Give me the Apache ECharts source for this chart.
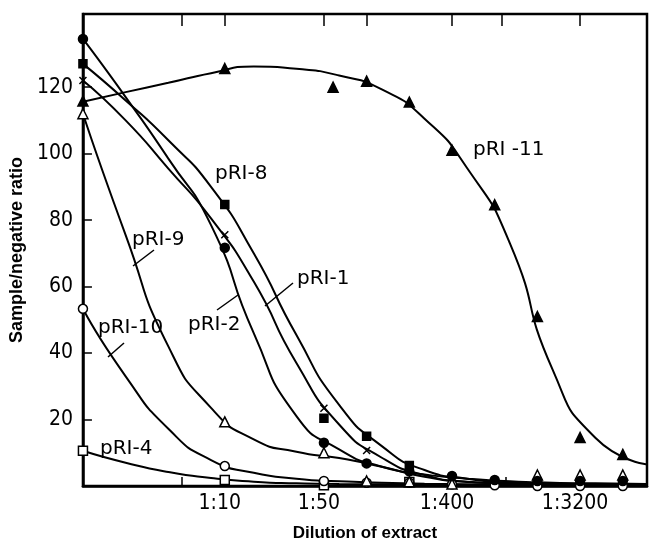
<!DOCTYPE html>
<html>
<head>
<meta charset="utf-8">
<script src="https://cdn.jsdelivr.net/npm/echarts@6/dist/echarts.min.js"></script>
<style>
  html, body { margin: 0; padding: 0; background: #fff; }
  #main { width: 658px; height: 547px; }
</style>
</head>
<body>
<div id="main"></div>
<script>
// dilution of extract, 1:x
var dilutions = [1, 10, 50, 100, 200, 400, 800, 1600, 3200, 6400];
var xLabels = [10, 50, 400, 3200];
var yLabels = [20, 40, 60, 80, 100, 120];
var topTicks = [5, 10, 50, 100, 400, 900, 3200];
var bottomTicks = [5, 950];

// measured points (null = hidden under other marks)
var pri1Marks  = [122, 75.6, 23.4, 10.7, null, null, null, null, null, null];
var pri8Marks  = [127, 84.7, 20.4, 15, 6.2, null, null, null, null, null];
var pri2Marks  = [134.5, 71.7, 13, 6.8, 4.4, 3, 1.8, 1.5, 1.5, 1.5];
var pri9Marks  = [112, 19.3, 10, 1.5, 1.3, 0.6, null, 3.3, 3.3, 3.3];
var pri10Marks = [53.3, 6, 1.5, 1, 1, 0.5, 0.2, 0, 0, 0];
var pri4Marks  = [10.6, 1.8, 0.2, null, 1.2, null, null, null, null, null];
var pri11X     = [1, 10, 58, 100, 200, 400, 800, 1600, 3200, 6400];
var pri11Marks = [115.8, 125.6, 120, 121.8, 115.5, 101, 84.6, 51, 14.6, 9.5];

// fitted curves, read at two-fold steps
var curveX    = [1, 2, 4, 8, 16, 32, 64, 128, 256, 512, 1024, 2048, 4096, 9480];
var pri11Line = [115.6, 118.5, 121.3, 124.2, 126.2, 125.5, 123.5, 119.3, 110.5, 95.6, 73, 35, 14.5, 6.5];
var pri8Line  = [127, 116, 104, 90, 70, 45.4, 24.4, 12, 4.8, 2.2, 1.1, 0.8, 0.6, 0.5];
var pri1Line  = [122, 110, 95.5, 80.5, 61.5, 37, 18.5, 8.5, 3.3, 1.3, 0.7, 0.6, 0.5, 0.5];
var pri2Line  = [134.5, 117, 98.5, 78.5, 46, 21, 11, 5.8, 3.5, 2.2, 1.4, 1, 0.8, 0.6];
var pri9Line  = [112, 75.5, 42, 23.5, 14, 10.3, 8.4, 5.8, 2.8, 1.2, 0.8, 0.6, 0.5, 0.5];
var pri10Line = [53.3, 33, 17.2, 7.8, 4, 2.2, 1.4, 1, 0.7, 0.5, 0.4, 0.4, 0.4, 0.4];
var pri4Line  = [10.6, 7, 4.2, 2.4, 1.3, 0.8, 0.6, 0.5, 0.4, 0.3, 0.3, 0.3, 0.3, 0.3];

var tickFont = "'Liberation Sans Narrow', 'DejaVu Sans Condensed', 'Liberation Sans', sans-serif";
var labelFont = "'DejaVu Sans', sans-serif";
var crossPath = 'path://M0,0L10,10M10,0L0,10';

function pairs(xs, ys) {
    var out = [];
    for (var i = 0; i < xs.length; i++) {
        if (ys[i] !== null) out.push([xs[i], ys[i]]);
    }
    return out;
}

function curve(ys) {
    return {
        type: 'line', data: pairs(curveX, ys), smooth: 0.6, symbol: 'none', silent: true,
        lineStyle: { color: '#000', width: 2 }, z: 2
    };
}

function marks(data, symbol, size, filled) {
    return {
        type: 'scatter', data: data, symbol: symbol, symbolSize: size, z: 5,
        itemStyle: {
            color: filled ? '#000' : '#fff',
            borderColor: '#000',
            borderWidth: 1.5,
            opacity: 1
        }
    };
}

function label(x, y, text) {
    return { type: 'text', style: { x: x, y: y, text: text, font: '20px ' + labelFont, fill: '#000', verticalAlign: 'middle' } };
}

function leader(x1, y1, x2, y2) {
    return { type: 'line', shape: { x1: x1, y1: y1, x2: x2, y2: y2 }, style: { stroke: '#000', lineWidth: 1.5 } };
}

var chart = echarts.init(document.getElementById('main'));

var option = {
    animation: false,
    grid: {
        left: 82, right: 11, top: 14, bottom: 55,
        show: true, borderColor: '#000', borderWidth: 2.5
    },
    xAxis: [{
        type: 'log', logBase: 2, min: 1, max: 9480,
        name: 'Dilution of extract', nameLocation: 'middle', nameGap: 39,
        nameTextStyle: { fontFamily: "'Liberation Sans', sans-serif", fontWeight: 'bold', fontSize: 17, color: '#000' },
        axisLine: { lineStyle: { color: '#000', width: 2.5 } },
        axisTick: { inside: true, length: 9, customValues: bottomTicks, lineStyle: { color: '#000', width: 1.5 } },
        axisLabel: {
            customValues: xLabels, margin: 7, padding: [0, 10, 0, 0],
            fontFamily: tickFont, fontSize: 21, color: '#000',
            formatter: function (v) { return '1:' + v; }
        },
        splitLine: { show: false }, minorTick: { show: false }
    }, {
        type: 'log', logBase: 2, min: 1, max: 9480, position: 'top',
        axisLine: { show: false },
        axisTick: { inside: true, length: 12, customValues: topTicks, lineStyle: { color: '#000', width: 1.5 } },
        axisLabel: { show: false },
        splitLine: { show: false }
    }],
    yAxis: {
        type: 'value', min: 0, max: 142,
        name: 'Sample/negative ratio', nameLocation: 'middle', nameGap: 41,
        nameTextStyle: { fontFamily: "'Liberation Sans', sans-serif", fontWeight: 'bold', fontSize: 18, color: '#000' },
        axisLine: { show: true, lineStyle: { color: '#000', width: 2.5 } },
        axisTick: { show: true, inside: true, length: 9, customValues: yLabels, lineStyle: { color: '#000', width: 1.5 } },
        axisLabel: { customValues: yLabels, margin: 10, fontFamily: tickFont, fontSize: 21, color: '#000' },
        splitLine: { show: false }
    },
    graphic: [
        label(473, 150, 'pRI -11'),
        label(215, 174, 'pRI-8'),
        label(132, 240, 'pRI-9'),
        label(297, 279, 'pRI-1'),
        label(188, 325, 'pRI-2'),
        label(98, 328, 'pRI-10'),
        label(100, 449, 'pRI-4'),
        leader(133, 266, 154, 250),
        leader(265, 306, 293, 283),
        leader(217, 310, 238, 295),
        leader(108, 357, 124, 343)
    ],
    series: [
        curve(pri11Line), curve(pri8Line), curve(pri1Line), curve(pri2Line),
        curve(pri9Line), curve(pri10Line), curve(pri4Line),
        marks(pairs(dilutions, pri4Marks), 'rect', 9, false),
        marks(pairs(dilutions, pri10Marks), 'circle', 9, false),
        marks(pairs(dilutions, pri9Marks), 'triangle', 10, false),
        marks(pairs(dilutions, pri2Marks), 'circle', 9, true),
        marks(pairs(dilutions, pri8Marks), 'rect', 8, true),
        marks(pairs(pri11X, pri11Marks), 'triangle', 10, true),
        {
            type: 'scatter', data: pairs(dilutions, pri1Marks), symbol: crossPath, symbolSize: 7, z: 6,
            itemStyle: { color: 'none', borderColor: '#000', borderWidth: 1.5, opacity: 1 }
        }
    ]
};

chart.setOption(option);
</script>
</body>
</html>
